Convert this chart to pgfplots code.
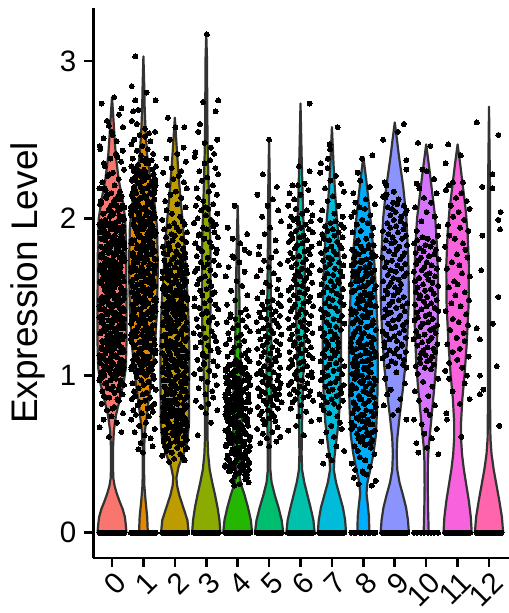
\documentclass[border=0pt]{standalone}
\usepackage{fontspec}
\setmainfont{Liberation Sans}
\usepackage{pgfplots}
\usepackage{pgfplotstable}
\pgfplotsset{compat=1.18}
\definecolor{vA}{HTML}{F8766D}
\definecolor{vB}{HTML}{E18A00}
\definecolor{vC}{HTML}{BE9C00}
\definecolor{vD}{HTML}{8CAB00}
\definecolor{vE}{HTML}{24B700}
\definecolor{vF}{HTML}{00BE70}
\definecolor{vG}{HTML}{00C1AB}
\definecolor{vH}{HTML}{00BBDA}
\definecolor{vI}{HTML}{00ACFC}
\definecolor{vJ}{HTML}{8B93FF}
\definecolor{vK}{HTML}{D575FE}
\definecolor{vL}{HTML}{F962DD}
\definecolor{vM}{HTML}{FF65AC}
\definecolor{vline}{HTML}{333333}

% cells with zero expression (jitter offsets in 1/100 x units)
\pgfplotstableread{
d y
-40 0
-35 0
-30 0
-25 0
-20 0
-15 0
-10 0
-5 0
0 0
5 0
10 0
15 0
20 0
25 0
30 0
35 0
40 0
}\zfull
\pgfplotstableread{
d y
-38 0
-30 0
-22 0
-12 0
-4 0
4 0
14 0
22 0
30 0
38 0
}\zeight
\pgfplotstableread{
d y
-38 0
-28 0
-16 0
-6 0
6 0
16 0
26 0
38 0
}\zten

\pgfplotsset{jit/.style={only marks, mark=*, mark size=2.5pt, mark options={black, fill=black, line width=0pt}, forget plot}}
% violin outline: offset from cluster centre (x units), expression level
\newcommand{\vio}[3]{%
\addplot[fill=#2, draw=vline, line width=2.2pt, line join=round, forget plot] table[row sep=\\, x expr=#1+\thisrow{x}, y=y] {x y\\ #3};
}
\newcommand{\zbar}[2]{%
\addplot[jit] table[x expr=#1+(\thisrow{d})/100, y=y] {#2};
}

\begin{document}
\begin{tikzpicture}
\begin{axis}[
 scale only axis, width=415pt, height=550pt,
 xmin=-0.589, xmax=12.62, ymin=-0.161, ymax=3.338,
 axis x line=bottom, axis y line=left,
 axis line style={-, line width=2.8pt, black},
 xtick={0,1,2,3,4,5,6,7,8,9,10,11,12},
 xticklabels={0,1,2,3,4,5,6,7,8,9,10,11,12},
 ytick={0,1,2,3}, yticklabels={0,1,2,3},
 tick align=outside, major tick length=9pt,
 tick style={line width=2.6pt, black},
 xticklabel style={font=\fontsize{29.5}{29.5}\selectfont, yshift=-3.5pt, xshift=1.5pt, rotate=45, anchor=north east, inner sep=0pt},
 yticklabel style={font=\fontsize{29.5}{29.5}\selectfont, anchor=east, inner sep=0pt, xshift=-8pt},
 every axis y label/.style={at={(rel axis cs:0,0.5)}, xshift=-65.5pt, rotate=90, anchor=center, font=\fontsize{37}{37}\selectfont},
 ylabel={Expression Level},
]
\vio{0}{vA}{0.46 0\\ 0.44 0.05\\ 0.41 0.10\\ 0.34 0.15\\ 0.24 0.20\\ 0.15 0.25\\ 0.08 0.30\\ 0.04 0.35\\ 0.03 0.45\\ 0.035 0.55\\ 0.06 0.65\\ 0.13 0.75\\ 0.25 0.85\\ 0.37 0.95\\ 0.44 1.05\\ 0.46 1.2\\ 0.46 1.5\\ 0.45 1.8\\ 0.42 2.0\\ 0.35 2.1\\ 0.21 2.25\\ 0.12 2.4\\ 0.07 2.55\\ 0.04 2.65\\ 0 2.77\\ -0.04 2.65\\ -0.07 2.55\\ -0.12 2.4\\ -0.21 2.25\\ -0.35 2.1\\ -0.42 2.0\\ -0.45 1.8\\ -0.46 1.5\\ -0.46 1.2\\ -0.44 1.05\\ -0.37 0.95\\ -0.25 0.85\\ -0.13 0.75\\ -0.06 0.65\\ -0.035 0.55\\ -0.03 0.45\\ -0.04 0.35\\ -0.08 0.30\\ -0.15 0.25\\ -0.24 0.20\\ -0.34 0.15\\ -0.41 0.10\\ -0.44 0.05\\ -0.46 0\\ 0.46 0\\}
\vio{1}{vB}{0.14 0\\ 0.12 0.1\\ 0.07 0.2\\ 0.03 0.3\\ 0.02 0.4\\ 0.025 0.55\\ 0.05 0.65\\ 0.14 0.8\\ 0.27 1.0\\ 0.37 1.2\\ 0.43 1.4\\ 0.46 1.7\\ 0.43 1.95\\ 0.35 2.1\\ 0.22 2.25\\ 0.12 2.4\\ 0.07 2.55\\ 0.04 2.7\\ 0.025 2.85\\ 0 3.03\\ -0.025 2.85\\ -0.04 2.7\\ -0.07 2.55\\ -0.12 2.4\\ -0.22 2.25\\ -0.35 2.1\\ -0.43 1.95\\ -0.46 1.7\\ -0.43 1.4\\ -0.37 1.2\\ -0.27 1.0\\ -0.14 0.8\\ -0.05 0.65\\ -0.025 0.55\\ -0.02 0.4\\ -0.03 0.3\\ -0.07 0.2\\ -0.12 0.1\\ -0.14 0\\ 0.14 0\\}
\vio{2}{vC}{0.44 0\\ 0.40 0.08\\ 0.27 0.16\\ 0.14 0.24\\ 0.07 0.30\\ 0.05 0.35\\ 0.12 0.42\\ 0.28 0.50\\ 0.40 0.58\\ 0.45 0.7\\ 0.46 1.2\\ 0.42 1.45\\ 0.36 1.65\\ 0.30 1.85\\ 0.24 2.0\\ 0.17 2.15\\ 0.11 2.3\\ 0.06 2.45\\ 0 2.64\\ -0.06 2.45\\ -0.11 2.3\\ -0.17 2.15\\ -0.24 2.0\\ -0.30 1.85\\ -0.36 1.65\\ -0.42 1.45\\ -0.46 1.2\\ -0.45 0.7\\ -0.40 0.58\\ -0.28 0.50\\ -0.12 0.42\\ -0.05 0.35\\ -0.07 0.30\\ -0.14 0.24\\ -0.27 0.16\\ -0.40 0.08\\ -0.44 0\\ 0.44 0\\}
\vio{3}{vD}{0.45 0\\ 0.42 0.08\\ 0.36 0.16\\ 0.28 0.24\\ 0.19 0.32\\ 0.11 0.4\\ 0.06 0.5\\ 0.04 0.6\\ 0.04 0.75\\ 0.06 0.9\\ 0.10 1.1\\ 0.13 1.35\\ 0.14 1.6\\ 0.13 1.85\\ 0.10 2.05\\ 0.07 2.25\\ 0.04 2.5\\ 0.03 2.75\\ 0.025 3.0\\ 0 3.17\\ -0.025 3.0\\ -0.03 2.75\\ -0.04 2.5\\ -0.07 2.25\\ -0.10 2.05\\ -0.13 1.85\\ -0.14 1.6\\ -0.13 1.35\\ -0.10 1.1\\ -0.06 0.9\\ -0.04 0.75\\ -0.04 0.6\\ -0.06 0.5\\ -0.11 0.4\\ -0.19 0.32\\ -0.28 0.24\\ -0.36 0.16\\ -0.42 0.08\\ -0.45 0\\ 0.45 0\\}
\vio{4}{vE}{0.46 0\\ 0.42 0.08\\ 0.33 0.16\\ 0.22 0.24\\ 0.12 0.30\\ 0.06 0.36\\ 0.06 0.42\\ 0.09 0.5\\ 0.13 0.6\\ 0.15 0.7\\ 0.14 0.85\\ 0.11 1.0\\ 0.08 1.2\\ 0.055 1.5\\ 0.035 1.8\\ 0 2.08\\ -0.035 1.8\\ -0.055 1.5\\ -0.08 1.2\\ -0.11 1.0\\ -0.14 0.85\\ -0.15 0.7\\ -0.13 0.6\\ -0.09 0.5\\ -0.06 0.42\\ -0.06 0.36\\ -0.12 0.30\\ -0.22 0.24\\ -0.33 0.16\\ -0.42 0.08\\ -0.46 0\\ 0.46 0\\}
\vio{5}{vF}{0.45 0\\ 0.40 0.08\\ 0.30 0.16\\ 0.18 0.24\\ 0.08 0.32\\ 0.04 0.4\\ 0.04 0.55\\ 0.06 0.7\\ 0.08 0.9\\ 0.08 1.1\\ 0.065 1.35\\ 0.05 1.6\\ 0.035 1.9\\ 0.025 2.2\\ 0 2.5\\ -0.025 2.2\\ -0.035 1.9\\ -0.05 1.6\\ -0.065 1.35\\ -0.08 1.1\\ -0.08 0.9\\ -0.06 0.7\\ -0.04 0.55\\ -0.04 0.4\\ -0.08 0.32\\ -0.18 0.24\\ -0.30 0.16\\ -0.40 0.08\\ -0.45 0\\ 0.45 0\\}
\vio{6}{vG}{0.45 0\\ 0.41 0.08\\ 0.32 0.16\\ 0.22 0.24\\ 0.12 0.32\\ 0.05 0.4\\ 0.035 0.5\\ 0.04 0.6\\ 0.06 0.8\\ 0.09 1.0\\ 0.13 1.25\\ 0.14 1.5\\ 0.13 1.75\\ 0.09 2.0\\ 0.06 2.2\\ 0.035 2.4\\ 0 2.73\\ -0.035 2.4\\ -0.06 2.2\\ -0.09 2.0\\ -0.13 1.75\\ -0.14 1.5\\ -0.13 1.25\\ -0.09 1.0\\ -0.06 0.8\\ -0.04 0.6\\ -0.035 0.5\\ -0.05 0.4\\ -0.12 0.32\\ -0.22 0.24\\ -0.32 0.16\\ -0.41 0.08\\ -0.45 0\\ 0.45 0\\}
\vio{7}{vH}{0.45 0\\ 0.42 0.08\\ 0.35 0.16\\ 0.24 0.24\\ 0.13 0.32\\ 0.06 0.4\\ 0.08 0.48\\ 0.14 0.58\\ 0.21 0.7\\ 0.26 0.85\\ 0.29 1.1\\ 0.29 1.4\\ 0.26 1.7\\ 0.20 1.9\\ 0.14 2.05\\ 0.09 2.2\\ 0.05 2.35\\ 0 2.58\\ -0.05 2.35\\ -0.09 2.2\\ -0.14 2.05\\ -0.20 1.9\\ -0.26 1.7\\ -0.29 1.4\\ -0.29 1.1\\ -0.26 0.85\\ -0.21 0.7\\ -0.14 0.58\\ -0.08 0.48\\ -0.06 0.4\\ -0.13 0.32\\ -0.24 0.24\\ -0.35 0.16\\ -0.42 0.08\\ -0.45 0\\ 0.45 0\\}
\vio{8}{vI}{0.19 0\\ 0.18 0.1\\ 0.14 0.18\\ 0.10 0.25\\ 0.13 0.32\\ 0.22 0.4\\ 0.32 0.5\\ 0.40 0.62\\ 0.44 0.8\\ 0.46 1.0\\ 0.45 1.3\\ 0.40 1.55\\ 0.34 1.75\\ 0.25 1.95\\ 0.17 2.1\\ 0.09 2.25\\ 0 2.39\\ -0.09 2.25\\ -0.17 2.1\\ -0.25 1.95\\ -0.34 1.75\\ -0.40 1.55\\ -0.45 1.3\\ -0.46 1.0\\ -0.44 0.8\\ -0.40 0.62\\ -0.32 0.5\\ -0.22 0.4\\ -0.13 0.32\\ -0.10 0.25\\ -0.14 0.18\\ -0.18 0.1\\ -0.19 0\\ 0.19 0\\}
\vio{9}{vJ}{0.45 0\\ 0.42 0.08\\ 0.36 0.16\\ 0.26 0.24\\ 0.15 0.32\\ 0.08 0.4\\ 0.06 0.5\\ 0.08 0.6\\ 0.16 0.75\\ 0.25 0.9\\ 0.33 1.05\\ 0.40 1.25\\ 0.45 1.5\\ 0.43 1.75\\ 0.37 2.0\\ 0.27 2.2\\ 0.13 2.4\\ 0.07 2.5\\ 0 2.61\\ -0.07 2.5\\ -0.13 2.4\\ -0.27 2.2\\ -0.37 2.0\\ -0.43 1.75\\ -0.45 1.5\\ -0.40 1.25\\ -0.33 1.05\\ -0.25 0.9\\ -0.16 0.75\\ -0.08 0.6\\ -0.06 0.5\\ -0.08 0.4\\ -0.15 0.32\\ -0.26 0.24\\ -0.36 0.16\\ -0.42 0.08\\ -0.45 0\\ 0.45 0\\}
\vio{10}{vK}{0.08 0\\ 0.06 0.15\\ 0.05 0.3\\ 0.055 0.45\\ 0.08 0.55\\ 0.13 0.65\\ 0.20 0.8\\ 0.27 0.95\\ 0.32 1.1\\ 0.37 1.35\\ 0.38 1.6\\ 0.35 1.8\\ 0.29 2.0\\ 0.20 2.15\\ 0.11 2.3\\ 0 2.47\\ -0.11 2.3\\ -0.20 2.15\\ -0.29 2.0\\ -0.35 1.8\\ -0.38 1.6\\ -0.37 1.35\\ -0.32 1.1\\ -0.27 0.95\\ -0.20 0.8\\ -0.13 0.65\\ -0.08 0.55\\ -0.055 0.45\\ -0.05 0.3\\ -0.06 0.15\\ -0.08 0\\ 0.08 0\\}
\vio{11}{vL}{0.45 0\\ 0.42 0.1\\ 0.36 0.2\\ 0.28 0.3\\ 0.20 0.4\\ 0.14 0.5\\ 0.11 0.6\\ 0.11 0.7\\ 0.15 0.85\\ 0.22 1.0\\ 0.29 1.2\\ 0.35 1.45\\ 0.36 1.7\\ 0.32 1.9\\ 0.26 2.05\\ 0.17 2.2\\ 0.08 2.35\\ 0 2.47\\ -0.08 2.35\\ -0.17 2.2\\ -0.26 2.05\\ -0.32 1.9\\ -0.36 1.7\\ -0.35 1.45\\ -0.29 1.2\\ -0.22 1.0\\ -0.15 0.85\\ -0.11 0.7\\ -0.11 0.6\\ -0.14 0.5\\ -0.20 0.4\\ -0.28 0.3\\ -0.36 0.2\\ -0.42 0.1\\ -0.45 0\\ 0.45 0\\}
\vio{12}{vM}{0.45 0\\ 0.41 0.1\\ 0.33 0.2\\ 0.24 0.3\\ 0.15 0.4\\ 0.08 0.5\\ 0.045 0.6\\ 0.035 0.8\\ 0.035 1.5\\ 0.03 2.2\\ 0 2.71\\ -0.03 2.2\\ -0.035 1.5\\ -0.035 0.8\\ -0.045 0.6\\ -0.08 0.5\\ -0.15 0.4\\ -0.24 0.3\\ -0.33 0.2\\ -0.41 0.1\\ -0.45 0\\ 0.45 0\\}

\zbar{0}{\zfull}
\zbar{1}{\zfull}
\zbar{2}{\zfull}
\zbar{3}{\zfull}
\zbar{4}{\zfull}
\zbar{5}{\zfull}
\zbar{6}{\zfull}
\zbar{7}{\zfull}
\zbar{8}{\zeight}
\zbar{9}{\zfull}
\zbar{10}{\zten}
\zbar{11}{\zfull}
\zbar{12}{\zfull}

% cluster 0
\addplot[jit] table[row sep=\\, x expr=0+(\thisrow{d})/100, y expr=\thisrow{y}/100] {d y\\
22 266\\ -33 273\\ 7 277\\ -16 262\\ 35 258\\ -1 255\\ -27 251\\ 15 249\\ -39 246\\ 30 270\\ -10 259\\ 2 253\\
-37 244\\ 12 241\\ -5 238\\ 29 236\\ -22 233\\ 38 231\\ 3 229\\ -14 227\\ 21 225\\ -31 223\\ 8 221\\ 34 243\\ -26 235\\ -9 228\\ 17 239\\
-40 219\\ 25 217\\ -2 216\\ 31 214\\ -18 213\\ 6 211\\ -34 210\\ 14 208\\ 39 207\\ -11 205\\ 0 204\\ -28 203\\ 23 202\\ -7 201\\ 36 200\\ -20 218\\ 10 212\\ -38 209\\ 27 206\\ -15 215\\ 4 203\\ 33 201\\ -24 219\\ 19 214\\ -3 208\\
22 199\\ -33 198\\ 7 197\\ -16 196\\ 35 195\\ -1 194\\ -27 193\\ 15 192\\ -39 191\\ 30 190\\ -10 189\\ 2 188\\ 26 187\\ -21 186\\ 37 185\\ -6 184\\ 11 183\\ -35 182\\ 18 181\\ -24 180\\ -13 179\\ 32 178\\ -30 177\\ 5 176\\ 24 175\\ -17 174\\ 40 173\\ -8 172\\ 13 171\\ -36 170\\ 28 169\\ -4 168\\ -23 167\\ 9 166\\ -29 165\\ 16 164\\ 1 163\\ -19 162\\ 20 161\\ -12 160\\
-37 159\\ 12 158\\ -5 157\\ 29 156\\ -22 155\\ 38 154\\ 3 153\\ -14 152\\ 21 151\\ -31 150\\ 8 149\\ 34 148\\ -26 147\\ -9 146\\ 17 145\\ -40 144\\ 25 143\\ -2 142\\ 31 141\\ -18 140\\ 6 139\\ -34 138\\ 14 137\\ 39 136\\ -11 135\\ 0 134\\ -28 133\\ 23 132\\ -7 131\\ 36 130\\ -20 129\\ 10 128\\ -38 127\\ 27 126\\ -15 125\\ 4 124\\ 33 123\\ -24 122\\ 19 121\\ -3 120\\
22 119\\ -33 118\\ 7 117\\ -16 116\\ 35 115\\ -1 114\\ -27 113\\ 15 112\\ -39 111\\ 30 110\\ -10 109\\ 2 108\\ 26 107\\ -21 106\\ 37 105\\ -6 104\\ 11 103\\ -35 102\\ 18 101\\ -24 100\\
-3 101\\ 19 103\\ -24 104\\ 33 106\\ 4 107\\ -15 109\\ 27 110\\ -38 112\\ 10 113\\ -20 115\\ 36 116\\ -7 118\\ 23 119\\ -28 121\\ 0 122\\ -11 124\\ 39 125\\ 14 127\\ -34 128\\ 6 130\\ -18 131\\ 31 133\\ -2 134\\ 25 136\\ -40 137\\ 17 139\\ -9 140\\ -26 142\\ 34 143\\ 8 145\\ -31 146\\ 21 148\\ -14 149\\ 3 151\\ 38 152\\ -22 154\\ 29 155\\ -5 157\\ 12 158\\ -37 160\\
-12 161\\ 20 163\\ -19 164\\ 1 166\\ 16 167\\ -29 169\\ 9 170\\ -23 172\\ -4 173\\ 28 175\\ -36 176\\ 13 178\\ -8 179\\ 40 181\\ -17 182\\ 24 184\\ 5 185\\ -30 187\\ 32 188\\ -13 190\\ -24 191\\ 18 193\\ -35 194\\ 11 196\\ -6 197\\ 37 199\\
-37 99\\ 12 98\\ -5 97\\ 29 96\\ -22 95\\ 38 94\\ 3 93\\ -14 92\\ 21 91\\ -31 90\\ 8 89\\ 34 88\\ -26 87\\ -9 86\\ 17 85\\ -40 97\\ 25 94\\ -2 91\\ 31 88\\ -18 86\\
22 84\\ -33 82\\ 7 80\\ -16 78\\ 35 76\\ -1 74\\ -27 72\\ 15 70\\ -39 67\\ 30 64\\ -10 61\\ 2 79\\
5 100\\ -29 102\\ 34 103\\ -12 105\\ 18 106\\ -38 108\\ 26 109\\ -4 111\\ 11 112\\ -21 114\\ 38 115\\ -33 117\\ 0 118\\ 15 120\\ -17 121\\ 30 123\\ -8 124\\ 23 126\\ -36 127\\ 9 129\\ -25 130\\ 36 132\\ -1 133\\ 13 135\\ -30 136\\ 20 138\\ -14 139\\ 39 141\\ -23 142\\ 3 144\\ -10 145\\ 28 147\\ -39 148\\ 16 150\\ -6 151\\ 32 153\\ -19 154\\ 7 156\\ -27 157\\ 24 159\\
5 160\\ -29 162\\ 34 163\\ -12 165\\ 18 166\\ -38 168\\ 26 169\\ -4 171\\ 11 172\\ -21 174\\ 38 175\\ -33 177\\ 0 178\\ 15 180\\ -17 181\\ 30 183\\ -8 184\\ 23 186\\ -36 187\\ 9 189\\ -25 190\\ 36 192\\ -1 193\\ 13 195\\ -30 196\\ 20 198\\
-18 95\\ 27 97\\ -36 98\\ 8 100\\ 33 101\\ -9 103\\ 19 104\\ -27 106\\ 1 107\\ 37 109\\ -22 110\\ 12 112\\ -40 113\\ 24 115\\ -4 116\\ 31 118\\ -14 119\\ 6 121\\ -31 122\\ 16 124\\ 39 125\\ -6 127\\ -25 128\\ 21 130\\ -11 131\\ 35 133\\ -34 134\\ 3 136\\ 29 137\\ -19 139\\ 10 140\\ -38 142\\ 26 143\\ -1 145\\ 14 146\\ -29 148\\ 38 149\\ -16 151\\ 4 152\\ -8 154\\
-8 155\\ 4 157\\ -16 158\\ 38 160\\ -29 161\\ 14 163\\ -1 164\\ 26 166\\ -38 167\\ 10 169\\ -19 170\\ 29 172\\ 3 173\\ -34 175\\ 35 176\\ -11 178\\ 21 179\\ -25 181\\ -6 182\\ 39 184\\ 16 185\\ -31 187\\ 6 188\\ -14 190\\ 31 191\\ -4 193\\ 24 194\\ -40 196\\ 12 197\\ -22 199\\ 37 200\\ 1 202\\ -27 203\\ 19 205\\ -9 206\\ 33 208\\ 8 209\\ -36 211\\ 27 212\\ -18 214\\
};
% cluster 1
\addplot[jit] table[row sep=\\, x expr=1-(\thisrow{d})/100, y expr=\thisrow{y}/100] {d y\\
26 303\\ 37 284\\ 26 275\\ -10 280\\ -39 275\\ 33 268\\ 16 269\\ 37 262\\ 21 260\\ -5 257\\
-37 255\\ 12 253\\ -5 252\\ 29 250\\ -22 249\\ 38 247\\ 3 246\\ -14 244\\ 21 243\\ -31 241\\ 8 240\\ 34 238\\ -26 237\\ -9 235\\ 17 234\\ -40 233\\ 25 232\\ -2 231\\ 31 230\\ -18 254\\
22 229\\ -33 228\\ 7 227\\ -16 226\\ 35 225\\ -1 224\\ -27 223\\ 15 222\\ -39 221\\ 30 220\\ -10 219\\ 2 218\\ 26 217\\ -21 216\\ 37 215\\ -6 214\\ 11 213\\ -35 212\\ 18 211\\ -24 210\\ -13 209\\ 32 208\\ -30 207\\ 5 206\\ 24 205\\ -17 204\\ 40 203\\ -8 202\\ 13 201\\ -36 200\\ 28 199\\ -4 198\\ -23 197\\ 9 196\\ -29 195\\ 16 194\\ 1 193\\ -19 192\\ 20 191\\ -12 190\\
-37 189\\ 12 188\\ -5 187\\ 29 186\\ -22 185\\ 38 184\\ 3 183\\ -14 182\\ 21 181\\ -31 180\\ 8 179\\ 34 178\\ -26 177\\ -9 176\\ 17 175\\ -40 174\\ 25 173\\ -2 172\\ 31 171\\ -18 170\\ 6 169\\ -34 168\\ 14 167\\ 39 166\\ -11 165\\ 0 164\\ -28 163\\ 23 162\\ -7 161\\ 36 160\\ -20 159\\ 10 158\\ -38 157\\ 27 156\\ -15 155\\ 4 154\\ 33 153\\ -24 152\\ 19 151\\ -3 150\\
22 149\\ -33 148\\ 7 147\\ -16 146\\ 35 145\\ -1 144\\ -27 143\\ 15 142\\ -39 141\\ 30 140\\ -10 139\\ 2 138\\ 26 137\\ -21 136\\ 37 135\\ -6 134\\ 11 133\\ -35 132\\ 18 131\\ -24 130\\ -13 129\\ 32 128\\ -30 127\\ 5 126\\ 24 125\\ -17 124\\ 40 123\\ -8 122\\ 13 121\\ -36 120\\ 28 119\\ -4 118\\ -23 117\\ 9 116\\ -29 115\\ 16 114\\ 1 113\\ -19 112\\ 20 111\\ -12 110\\
-37 109\\ 12 108\\ -5 107\\ 29 106\\ -22 105\\ 38 104\\ 3 103\\ -14 102\\ 21 101\\ -31 100\\
-3 101\\ 19 103\\ -24 105\\ 33 107\\ 4 109\\ -15 111\\ 27 113\\ -38 115\\ 10 117\\ -20 119\\ 36 121\\ -7 123\\ 23 125\\ -28 127\\ 0 129\\ -11 131\\ 39 133\\ 14 135\\ -34 137\\ 6 139\\ -18 141\\ 31 143\\ -2 145\\ 25 147\\ -40 149\\ 17 151\\ -9 153\\ -26 155\\ 34 157\\ 8 159\\ -31 161\\ 21 163\\ -14 165\\ 3 167\\ 38 169\\ -22 171\\ 29 173\\ -5 175\\ 12 177\\ -37 179\\
-12 181\\ 20 183\\ -19 185\\ 1 187\\ 16 189\\ -29 191\\ 9 193\\ -23 195\\ -4 197\\ 28 199\\ -36 201\\ 13 203\\ -8 205\\ 40 207\\ -17 209\\ 24 211\\ 5 213\\ -30 215\\ 32 217\\ -13 219\\ -24 221\\ 18 223\\ -35 225\\ 11 227\\ -6 229\\
22 99\\ -33 98\\ 7 97\\ -16 96\\ 35 95\\ -1 94\\ -27 93\\ 15 92\\ -39 91\\ 30 90\\ -10 89\\ 2 88\\ 26 87\\ -21 86\\ 37 85\\ -6 84\\ 11 83\\ -35 82\\ 18 81\\ -24 80\\ -13 79\\ 32 78\\ -30 77\\ 5 76\\ 24 75\\
-17 74\\ 39 72\\ -8 70\\ 13 68\\ -36 66\\ 28 64\\ -4 62\\ -23 60\\ 9 57\\ -29 55\\ 16 53\\ 1 51\\
24 102\\ -27 104\\ 7 106\\ -19 108\\ 32 110\\ -6 112\\ 16 114\\ -39 116\\ 28 118\\ -10 120\\ 3 122\\ -23 124\\ 39 126\\ -14 128\\ 20 130\\ -30 132\\ 13 134\\ -1 136\\ 36 138\\ -25 140\\ 9 142\\ -36 144\\ 23 146\\ -8 148\\ 30 150\\ -17 152\\ 15 154\\ 0 156\\ -33 158\\ 38 160\\ -21 162\\ 11 164\\ -4 166\\ 26 168\\ -38 170\\ 18 172\\ -12 174\\ 34 176\\ -29 178\\ 5 180\\
5 182\\ -29 184\\ 34 186\\ -12 188\\ 18 190\\ -38 192\\ 26 194\\ -4 196\\ 11 198\\ -21 200\\ 38 202\\ -33 204\\ 0 206\\ 15 208\\ -17 210\\ 30 212\\ -8 214\\ 23 216\\ -36 218\\ 9 220\\ -25 222\\ 36 224\\ -1 226\\ 13 228\\
-8 100\\ 4 102\\ -16 104\\ 38 105\\ -29 107\\ 14 109\\ -1 111\\ 26 112\\ -38 114\\ 10 116\\ -19 118\\ 29 119\\ 3 121\\ -34 123\\ 35 125\\ -11 126\\ 21 128\\ -25 130\\ -6 132\\ 39 133\\ 16 135\\ -31 137\\ 6 139\\ -14 140\\ 31 142\\ -4 144\\ 24 146\\ -40 147\\ 12 149\\ -22 151\\ 37 153\\ 1 154\\ -27 156\\ 19 158\\ -9 160\\ 33 161\\ 8 163\\ -36 165\\ 27 167\\ -18 168\\
-18 170\\ 27 172\\ -36 174\\ 8 175\\ 33 177\\ -9 179\\ 19 181\\ -27 182\\ 1 184\\ 37 186\\ -22 188\\ 12 189\\ -40 191\\ 24 193\\ -4 195\\ 31 196\\ -14 198\\ 6 200\\ -31 202\\ 16 203\\ 39 205\\ -6 207\\ -25 209\\ 21 210\\ -11 212\\ 35 214\\ -34 216\\ 3 217\\ 29 219\\ -19 221\\ 10 223\\ -38 224\\ 26 226\\ -1 228\\ 14 230\\ -29 231\\ 38 233\\ -16 235\\ 4 237\\ -8 238\\
};
% cluster 2
\addplot[jit] table[row sep=\\, x expr=2+(\thisrow{d})/100, y expr=\thisrow{y}/100] {d y\\
-22 264\\ 2 258\\ 30 258\\ -16 250\\ 28 245\\ 8 241\\ -27 238\\ 35 236\\ -10 232\\ 20 230\\
-37 229\\ 12 227\\ -5 225\\ 29 223\\ -22 221\\ 38 219\\ 3 217\\ -14 215\\ 21 213\\ -31 211\\ 8 209\\ 34 207\\ -26 205\\ -9 203\\ 17 201\\
-40 199\\ 25 198\\ -2 197\\ 31 196\\ -18 195\\ 6 194\\ -34 193\\ 14 192\\ 39 191\\ -11 190\\ 0 189\\ -28 188\\ 23 187\\ -7 186\\ 36 185\\ -20 184\\ 10 183\\ -38 182\\ 27 181\\ -15 180\\ 4 179\\ 33 178\\ -24 177\\ 19 176\\ -3 175\\ 22 174\\ -33 173\\ 7 172\\ -16 171\\ 35 170\\
-1 169\\ -27 168\\ 15 167\\ -39 166\\ 30 165\\ -10 164\\ 2 163\\ 26 162\\ -21 161\\ 37 160\\ -6 159\\ 11 158\\ -35 157\\ 18 156\\ -24 155\\ -13 154\\ 32 153\\ -30 152\\ 5 151\\ 24 150\\ -17 149\\ 40 148\\ -8 147\\ 13 146\\ -36 145\\ 28 144\\ -4 143\\ -23 142\\ 9 141\\ -29 140\\ 16 139\\ 1 138\\ -19 137\\ 20 136\\ -12 135\\
-37 134\\ 12 133\\ -5 132\\ 29 131\\ -22 130\\ 38 129\\ 3 128\\ -14 127\\ 21 126\\ -31 125\\ 8 124\\ 34 123\\ -26 122\\ -9 121\\ 17 120\\ -40 119\\ 25 118\\ -2 117\\ 31 116\\ -18 115\\ 6 114\\ -34 113\\ 14 112\\ 39 111\\ -11 110\\ 0 109\\ -28 108\\ 23 107\\ -7 106\\ 36 105\\ -20 104\\ 10 103\\ -38 102\\ 27 101\\ -15 100\\ 4 99\\ 33 98\\ -24 97\\ 19 96\\ -3 95\\
22 94\\ -33 93\\ 7 92\\ -16 91\\ 35 90\\ -1 89\\ -27 88\\ 15 87\\ -39 86\\ 30 85\\ -10 84\\ 2 83\\ 26 82\\ -21 81\\ 37 80\\ -6 79\\ 11 78\\ -35 77\\ 18 76\\ -24 75\\ -13 74\\ 32 73\\ -30 72\\ 5 71\\ 24 70\\ -17 69\\ 40 68\\ -8 67\\ 13 66\\ -36 65\\
-3 66\\ 19 68\\ -24 70\\ 33 72\\ 4 74\\ -15 76\\ 27 78\\ -38 80\\ 10 82\\ -20 84\\ 36 86\\ -7 88\\ 23 90\\ -28 92\\ 0 94\\ -11 96\\ 39 98\\ 14 100\\ -34 102\\ 6 104\\ -18 106\\ 31 108\\ -2 110\\ 25 112\\ -40 114\\ 17 116\\ -9 118\\ -26 120\\ 34 122\\ 8 124\\ -31 126\\ 21 128\\ -14 130\\ 3 132\\ 38 134\\ -22 136\\ 29 138\\ -5 140\\ 12 142\\ -37 144\\ -12 146\\ 20 148\\ -19 150\\ 1 152\\ 16 154\\
-37 64\\ 12 63\\ -5 62\\ 29 61\\ -22 60\\ 38 59\\ 3 58\\ -14 57\\ 21 56\\ -31 55\\ 8 54\\ 34 53\\ -26 52\\ -9 51\\ 17 50\\ -40 49\\ 25 48\\ -2 47\\ 31 46\\ -18 45\\ 6 63\\ -34 60\\ 14 57\\ 39 54\\ -11 51\\
5 61\\ -29 63\\ 34 65\\ -12 67\\ 18 69\\ -38 71\\ 26 73\\ -4 75\\ 11 77\\ -21 79\\ 38 81\\ -33 83\\ 0 85\\ 15 87\\ -17 89\\ 30 91\\ -8 93\\ 23 95\\ -36 97\\ 9 99\\ -25 101\\ 36 103\\ -1 105\\ 13 107\\ -30 109\\ 20 111\\ -14 113\\ 39 115\\ -23 117\\ 3 119\\ -10 121\\ 28 123\\ -39 125\\ 16 127\\ -6 129\\ 32 131\\ -19 133\\ 7 135\\ -27 137\\ 24 139\\
24 141\\ -27 143\\ 7 145\\ -19 147\\ 32 149\\ -6 151\\ 16 153\\ -39 155\\ 28 157\\ -10 159\\ 3 161\\ -23 163\\ 39 165\\ -14 167\\ 20 169\\
-18 55\\ 27 57\\ -36 58\\ 8 60\\ 33 62\\ -9 63\\ 19 65\\ -27 66\\ 1 68\\ 37 70\\ -22 71\\ 12 73\\ -40 74\\ 24 76\\ -4 78\\ 31 79\\ -14 81\\ 6 82\\ -31 84\\ 16 86\\ 39 87\\ -6 89\\ -25 90\\ 21 92\\ -11 94\\ 35 95\\ -34 97\\ 3 98\\ 29 100\\ -19 102\\ 10 103\\ -38 105\\ 26 106\\ -1 108\\ 14 110\\ -29 111\\ 38 113\\ -16 114\\ 4 116\\ -8 118\\
-8 119\\ 4 121\\ -16 122\\ 38 124\\ -29 126\\ 14 127\\ -1 129\\ 26 130\\ -38 132\\ 10 134\\ -19 135\\ 29 137\\ 3 138\\ -34 140\\ 35 142\\ -11 143\\ 21 145\\ -25 146\\ -6 148\\ 39 150\\ 16 151\\ -31 153\\ 6 154\\ -14 156\\ 31 158\\ -4 159\\ 24 161\\ -40 162\\ 12 164\\ -22 166\\ 37 167\\ 1 169\\ -27 170\\ 19 172\\ -9 174\\ 33 175\\ 8 177\\ -36 178\\ 27 180\\ -18 182\\
};
% cluster 3
\addplot[jit] table[row sep=\\, x expr=3+(\thisrow{d})/100, y expr=\thisrow{y}/100] {d y\\
2 317\\ -10 274\\ 38 275\\ 30 268\\ -20 260\\ -25 255\\ 35 250\\ -5 248\\ 15 245\\ -35 242\\ 25 241\\
-37 239\\ 12 237\\ -5 235\\ 29 232\\ -22 230\\ 38 228\\ 3 226\\ -14 224\\ 21 221\\ -31 219\\ 8 217\\ 34 215\\ -26 213\\ -9 211\\
22 209\\ -33 208\\ 7 206\\ -16 205\\ 35 203\\ -1 202\\ -27 200\\ 15 199\\ -39 197\\ 30 196\\ -10 194\\ 2 193\\ 26 191\\ -21 190\\ 37 188\\ -6 187\\ 11 185\\ -35 184\\ 18 182\\ -24 181\\ -13 179\\ 32 178\\ -30 176\\ 5 175\\ 24 173\\ -17 172\\ 40 170\\ -8 169\\ 13 167\\ -36 166\\ 28 164\\ -4 163\\ -23 161\\ 9 160\\ -29 158\\ 16 157\\ 1 155\\ -19 154\\ 20 152\\ -12 151\\
-37 149\\ 12 148\\ -5 146\\ 29 145\\ -22 143\\ 38 142\\ 3 140\\ -14 139\\ 21 137\\ -31 136\\ 8 134\\ 34 133\\ -26 131\\ -9 130\\ 17 128\\ -40 127\\ 25 125\\ -2 124\\ 31 122\\ -18 121\\ 6 119\\ -34 118\\ 14 116\\ 39 115\\ -11 113\\ 0 112\\ -28 110\\ 23 109\\ -7 107\\ 36 106\\ -20 104\\ 10 103\\ -38 101\\ 27 100\\
-3 207\\ 19 198\\ -24 189\\ 33 180\\ 4 171\\ -15 162\\ 27 153\\ -38 144\\ 10 135\\ -20 126\\ 36 117\\ -7 108\\ 23 195\\ -28 168\\ 0 141\\ -11 114\\
-15 98\\ 4 96\\ 33 94\\ -24 92\\ 19 90\\ -3 88\\ 22 86\\ -33 84\\ 7 82\\ -16 80\\ 35 78\\ -1 76\\ -27 62\\ 15 70\\
};
% cluster 4
\addplot[jit] table[row sep=\\, x expr=4-(\thisrow{d})/100, y expr=\thisrow{y}/100] {d y\\
10 208\\ 32 194\\ 16 187\\ -22 180\\ -30 190\\ -8 184\\
-37 178\\ 12 175\\ -5 172\\ 29 169\\ -22 166\\ 38 163\\ 3 160\\ -14 157\\ 21 154\\ -31 151\\ 8 148\\ 34 145\\ -26 142\\ -9 140\\ 17 176\\
22 139\\ -33 138\\ 7 136\\ -16 135\\ 35 134\\ -1 132\\ -27 131\\ 15 130\\ -39 128\\ 30 127\\ -10 126\\ 2 124\\ 26 123\\ -21 122\\ 37 120\\ -6 119\\ 11 118\\ -35 116\\ 18 115\\ -24 114\\ -13 113\\ 32 112\\ -30 111\\ 5 110\\ 24 137\\
-37 109\\ 12 108\\ -5 107\\ 29 106\\ -22 105\\ 38 104\\ 3 103\\ -14 102\\ 21 101\\ -31 100\\ 8 99\\ 34 98\\ -26 97\\ -9 96\\ 17 95\\ -40 94\\ 25 93\\ -2 92\\ 31 91\\ -18 90\\ 6 89\\ -34 88\\ 14 87\\ 39 86\\ -11 85\\ 0 84\\ -28 83\\ 23 82\\ -7 81\\ 36 80\\ -20 79\\ 10 78\\ -38 77\\ 27 76\\ -15 75\\ 4 74\\ 33 73\\ -24 72\\ 19 71\\ -3 70\\
22 69\\ -33 68\\ 7 67\\ -16 66\\ 35 65\\ -1 64\\ -27 63\\ 15 62\\ -39 61\\ 30 60\\ -10 59\\ 2 58\\ 26 57\\ -21 56\\ 37 55\\ -6 54\\ 11 53\\ -35 52\\ 18 51\\ -24 50\\ -13 49\\ 32 48\\ -30 47\\ 5 46\\ 24 45\\ -17 44\\ 40 43\\ -8 42\\ 13 41\\ -36 40\\ 28 39\\ -4 38\\ -23 37\\ 9 36\\ -29 35\\
-3 108\\ 19 107\\ -24 105\\ 33 104\\ 4 103\\ -15 102\\ 27 100\\ -38 99\\ 10 98\\ -20 97\\ 36 95\\ -7 94\\ 23 93\\ -28 92\\ 0 90\\ -11 89\\ 39 88\\ 14 87\\ -34 85\\ 6 84\\ -18 83\\ 31 82\\ -2 80\\ 25 79\\ -40 78\\ 17 77\\ -9 75\\ -26 74\\ 34 73\\ 8 72\\ -31 70\\ 21 69\\ -14 68\\ 3 67\\ 38 65\\ -22 64\\ 29 63\\ -5 62\\ 12 60\\ -37 59\\
-12 58\\ 20 57\\ -19 55\\ 1 54\\ 16 53\\ -29 52\\ 9 50\\ -23 49\\ -4 48\\ 28 47\\ -36 45\\ 13 44\\ -8 43\\ 40 42\\ -17 40\\ 24 39\\ 5 38\\ -30 37\\ 32 71\\ -13 96\\
-24 34\\ 18 33\\ -35 32\\ 11 30\\ -6 31\\
24 41\\ -27 43\\ 7 45\\ -19 47\\ 32 49\\ -6 51\\ 16 53\\ -39 55\\ 28 57\\ -10 59\\ 3 61\\ -23 63\\ 39 65\\ -14 67\\ 20 69\\ -30 71\\ 13 73\\ -1 75\\ 36 77\\ -25 79\\ 9 81\\ -36 83\\ 23 85\\ -8 87\\ 30 89\\ -17 91\\ 15 93\\ 0 95\\ -33 97\\ 38 99\\ -21 101\\ 11 103\\ -4 105\\ 26 107\\ -38 109\\
-18 40\\ 27 42\\ -36 44\\ 8 45\\ 33 47\\ -9 49\\ 19 51\\ -27 52\\ 1 54\\ 37 56\\ -22 58\\ 12 59\\ -40 61\\ 24 63\\ -4 65\\ 31 66\\ -14 68\\ 6 70\\ -31 72\\ 16 73\\ 39 75\\ -6 77\\ -25 79\\ 21 80\\ -11 82\\ 35 84\\ -34 86\\ 3 87\\ 29 89\\ -19 91\\ 10 93\\ -38 94\\ 26 96\\ -1 98\\ 14 100\\ -29 101\\ 38 103\\ -16 105\\ 4 107\\ -8 108\\
};
% cluster 5
\addplot[jit] table[row sep=\\, x expr=5+(\thisrow{d})/100, y expr=\thisrow{y}/100] {d y\\
0 250\\ -20 228\\ 25 220\\
-37 215\\ 12 212\\ -5 208\\ 29 205\\ -22 201\\ 38 198\\ 3 194\\ -14 190\\ 21 186\\ -31 182\\
22 179\\ -33 177\\ 7 175\\ -16 173\\ 35 171\\ -1 169\\ -27 167\\ 15 165\\ -39 163\\ 30 161\\ -10 159\\ 2 157\\ 26 155\\ -21 153\\ 37 151\\
-37 149\\ 12 148\\ -5 147\\ 29 146\\ -22 145\\ 38 144\\ 3 143\\ -14 142\\ 21 141\\ -31 140\\ 8 139\\ 34 138\\ -26 137\\ -9 136\\ 17 135\\ -40 134\\ 25 133\\ -2 132\\ 31 131\\ -18 130\\ 6 129\\ -34 128\\ 14 127\\ 39 126\\ -11 125\\ 0 124\\ -28 123\\ 23 122\\ -7 121\\ 36 120\\ -20 119\\ 10 118\\ -38 117\\ 27 116\\ -15 115\\ 4 114\\ 33 113\\ -24 112\\ 19 111\\ -3 110\\
22 109\\ -33 108\\ 7 107\\ -16 106\\ 35 105\\ -1 104\\ -27 103\\ 15 102\\ -39 101\\ 30 100\\ -10 99\\ 2 98\\ 26 97\\ -21 96\\ 37 95\\ -6 94\\ 11 93\\ -35 92\\ 18 91\\ -24 90\\ -13 89\\ 32 88\\ -30 87\\ 5 86\\ 24 85\\ -17 84\\ 40 83\\ -8 82\\ 13 81\\ -36 80\\ 28 79\\ -4 78\\ -23 77\\ 9 76\\ -29 75\\ 16 74\\ 1 73\\ -19 72\\ 20 71\\ -12 70\\
-3 95\\ 19 88\\ -24 101\\ 33 92\\ 4 84\\
-15 69\\ 27 67\\ -38 66\\ 10 64\\ -20 63\\ 36 61\\ -7 60\\ 23 58\\ -28 57\\ 0 55\\
};
% cluster 6
\addplot[jit] table[row sep=\\, x expr=6-(\thisrow{d})/100, y expr=\thisrow{y}/100] {d y\\
-29 273\\ -29 230\\ 5 233\\
-13 222\\ 26 221\\ 8 221\\ 35 216\\ 39 208\\ 20 212\\ -20 205\\ -5 203\\ 30 201\\ -35 210\\ 0 215\\ 15 206\\ -25 218\\ 10 200\\ -38 202\\
22 199\\ -33 198\\ 7 197\\ -16 196\\ 35 195\\ -1 194\\ -27 193\\ 15 192\\ -39 191\\ 30 190\\ -10 189\\ 2 188\\ 26 187\\ -21 186\\ 37 185\\ -6 184\\ 11 183\\ -35 182\\ 18 181\\ -24 180\\ -13 179\\ 32 178\\ -30 177\\ 5 176\\ 24 175\\ -17 174\\ 40 173\\ -8 172\\ 13 171\\ -36 170\\ 28 169\\ -4 168\\ -23 167\\ 9 166\\ -29 165\\ 16 164\\ 1 163\\ -19 162\\ 20 161\\ -12 160\\
-37 159\\ 12 158\\ -5 157\\ 29 156\\ -22 155\\ 38 154\\ 3 153\\ -14 152\\ 21 151\\ -31 150\\ 8 149\\ 34 148\\ -26 147\\ -9 146\\ 17 145\\ -40 144\\ 25 143\\ -2 142\\ 31 141\\ -18 140\\ 6 139\\ -34 138\\ 14 137\\ 39 136\\ -11 135\\ 0 134\\ -28 133\\ 23 132\\ -7 131\\ 36 130\\ -20 129\\ 10 128\\ -38 127\\ 27 126\\ -15 125\\ 4 124\\ 33 123\\ -24 122\\ 19 121\\ -3 120\\
22 119\\ -33 118\\ 7 117\\ -16 116\\ 35 115\\ -1 114\\ -27 113\\ 15 112\\ -39 111\\ 30 110\\ -10 109\\ 2 108\\ 26 107\\ -21 106\\ 37 105\\ -6 104\\ 11 103\\ -35 102\\ 18 101\\ -24 100\\
-37 99\\ 12 98\\ -5 97\\ 29 96\\ -22 95\\ 38 94\\ 3 93\\ -14 92\\ 21 91\\ -31 90\\ 8 89\\ 34 88\\ -26 87\\ -9 86\\ 17 85\\ -40 84\\ 25 83\\ -2 81\\ 31 79\\ -18 77\\
6 74\\ -34 71\\ 14 68\\ 39 65\\ -11 62\\
};
% cluster 7
\addplot[jit] table[row sep=\\, x expr=7+(\thisrow{d})/100, y expr=\thisrow{y}/100] {d y\\
18 258\\ -7 247\\ -6 244\\ -13 238\\ -14 232\\ -35 235\\
-37 229\\ 12 227\\ -5 224\\ 29 222\\ -22 219\\ 38 217\\ 3 214\\ -14 211\\ 21 208\\ -31 205\\ 8 203\\ 34 201\\
-37 199\\ 12 198\\ -5 197\\ 29 196\\ -22 195\\ 38 194\\ 3 193\\ -14 192\\ 21 191\\ -31 190\\ 8 189\\ 34 188\\ -26 187\\ -9 186\\ 17 185\\ -40 184\\ 25 183\\ -2 182\\ 31 181\\ -18 180\\ 6 179\\ -34 178\\ 14 177\\ 39 176\\ -11 175\\ 0 174\\ -28 173\\ 23 172\\ -7 171\\ 36 170\\ -20 169\\ 10 168\\ -38 167\\ 27 166\\ -15 165\\ 4 164\\ 33 163\\ -24 162\\ 19 161\\ -3 160\\
22 159\\ -33 158\\ 7 157\\ -16 156\\ 35 155\\ -1 154\\ -27 153\\ 15 152\\ -39 151\\ 30 150\\ -10 149\\ 2 148\\ 26 147\\ -21 146\\ 37 145\\ -6 144\\ 11 143\\ -35 142\\ 18 141\\ -24 140\\ -13 139\\ 32 138\\ -30 137\\ 5 136\\ 24 135\\ -17 134\\ 40 133\\ -8 132\\ 13 131\\ -36 130\\ 28 129\\ -4 128\\ -23 127\\ 9 126\\ -29 125\\ 16 124\\ 1 123\\ -19 122\\ 20 121\\ -12 120\\
-12 119\\ 20 118\\ -19 117\\ 1 116\\ 16 115\\ -29 114\\ 9 113\\ -23 112\\ -4 111\\ 28 110\\ -36 109\\ 13 108\\ -8 107\\ 40 106\\ -17 105\\ 24 104\\ 5 103\\ -30 102\\ 32 101\\ -13 100\\ -24 99\\ 18 98\\ -35 97\\ 11 96\\ -6 95\\ 37 94\\ -21 93\\ 26 92\\ 2 91\\ -10 90\\ 30 89\\ -39 88\\ 15 87\\ -27 86\\ -1 85\\ 35 84\\ -16 83\\ 7 82\\ -33 81\\ 22 80\\
-26 78\\ -9 76\\ 17 74\\ -40 72\\ 25 70\\ -2 68\\ 31 66\\ -18 64\\ 6 61\\ -34 58\\ 14 55\\ 39 52\\ -11 49\\ 0 46\\ -28 44\\
};
% cluster 8
\addplot[jit] table[row sep=\\, x expr=8-(\thisrow{d})/100, y expr=\thisrow{y}/100] {d y\\
-29 240\\ 4 238\\ 18 229\\ 10 224\\ 32 216\\ -20 220\\ -8 212\\ 25 210\\
-37 209\\ 12 207\\ -5 206\\ 29 204\\ -22 202\\ 38 201\\ 3 199\\ -14 197\\ 21 196\\ -31 194\\ 8 192\\ 34 191\\ -26 189\\ -9 187\\ 17 186\\
22 184\\ -33 183\\ 7 182\\ -16 181\\ 35 180\\ -1 179\\ -27 178\\ 15 177\\ -39 176\\ 30 175\\ -10 174\\ 2 173\\ 26 172\\ -21 171\\ 37 170\\ -6 169\\ 11 168\\ -35 167\\ 18 166\\ -24 165\\ -13 164\\ 32 163\\ -30 162\\ 5 161\\ 24 160\\ -17 159\\ 40 158\\ -8 157\\ 13 156\\ -36 155\\ 28 154\\ -4 153\\ -23 152\\ 9 151\\ -29 150\\ 16 149\\ 1 148\\ -19 147\\ 20 146\\ -12 145\\
-37 144\\ 12 143\\ -5 142\\ 29 141\\ -22 140\\ 38 139\\ 3 138\\ -14 137\\ 21 136\\ -31 135\\ 8 134\\ 34 133\\ -26 132\\ -9 131\\ 17 130\\ -40 129\\ 25 128\\ -2 127\\ 31 126\\ -18 125\\ 6 124\\ -34 123\\ 14 122\\ 39 121\\ -11 120\\ 0 119\\ -28 118\\ 23 117\\ -7 116\\ 36 115\\ -20 114\\ 10 113\\ -38 112\\ 27 111\\ -15 110\\ 4 109\\ 33 108\\ -24 107\\ 19 106\\ -3 105\\
-3 104\\ 19 103\\ -24 102\\ 33 101\\ 4 100\\ -15 99\\ 27 98\\ -38 97\\ 10 96\\ -20 95\\ 36 94\\ -7 93\\ 23 92\\ -28 91\\ 0 90\\ -11 89\\ 39 88\\ 14 87\\ -34 86\\ 6 85\\ -18 84\\ 31 83\\ -2 82\\ 25 81\\ -40 80\\ 17 79\\ -9 78\\ -26 77\\ 34 76\\ 8 75\\ -31 74\\ 21 73\\ -14 72\\ 3 71\\ 38 70\\ -22 69\\ 29 68\\ -5 67\\ 12 66\\ -37 65\\
-12 64\\ 20 63\\ -19 62\\ 1 61\\ 16 60\\ -29 59\\ 9 58\\ -23 57\\ -4 56\\ 28 55\\
-24 54\\ 18 52\\ -35 50\\ 11 48\\ -6 46\\ 37 44\\ -21 42\\ 26 40\\ 2 39\\ -10 37\\ 30 35\\ -39 33\\ 15 31\\ -27 30\\ -1 38\\
5 61\\ -29 64\\ 34 67\\ -12 70\\ 18 73\\ -38 76\\ 26 79\\ -4 82\\ 11 85\\ -21 88\\ 38 91\\ -33 94\\ 0 97\\ 15 100\\ -17 103\\ 30 106\\ -8 109\\ 23 112\\ -36 115\\ 9 118\\ -25 121\\ 36 124\\ -1 127\\ 13 130\\ -30 133\\ 20 136\\ -14 139\\ 39 142\\ -23 145\\ 3 148\\ -10 151\\ 28 154\\ -39 157\\ 16 160\\ -6 163\\ 32 166\\ -19 169\\ 7 172\\ -27 175\\ 24 178\\ 5 181\\
-8 56\\ 4 59\\ -16 62\\ 38 66\\ -29 69\\ 14 72\\ -1 75\\ 26 79\\ -38 82\\ 10 85\\ -19 88\\ 29 92\\ 3 95\\ -34 98\\ 35 101\\ -11 105\\ 21 108\\ -25 111\\ -6 114\\ 39 118\\ 16 121\\ -31 124\\ 6 127\\ -14 131\\ 31 134\\ -4 137\\ 24 140\\ -40 144\\ 12 147\\ -22 150\\ 37 153\\ 1 157\\ -27 160\\ 19 163\\ -9 166\\ 33 170\\ 8 173\\ -36 176\\ 27 179\\ -18 183\\
};
% cluster 9
\addplot[jit] table[row sep=\\, x expr=9+(\thisrow{d})/100, y expr=\thisrow{y}/100] {d y\\
29 260\\ -37 250\\ 10 255\\ 37 237\\ 37 231\\ -32 223\\ -27 221\\ -3 217\\
-37 214\\ 12 212\\ -5 210\\ 29 208\\ -22 207\\ 38 205\\ 3 204\\ -14 202\\ 21 201\\ -31 213\\ 8 209\\ 34 203\\ -26 215\\ -9 206\\
-3 199\\ 19 198\\ -24 197\\ 33 196\\ 4 195\\ -15 194\\ 27 193\\ -38 192\\ 10 191\\ -20 190\\ 36 189\\ -7 188\\ 23 187\\ -28 186\\ 0 185\\ -11 184\\ 39 183\\ 14 182\\ -34 181\\ 6 180\\ -18 179\\ 31 178\\ -2 177\\ 25 176\\ -40 175\\ 17 174\\ -9 173\\ -26 172\\ 34 171\\ 8 170\\ -31 169\\ 21 168\\ -14 167\\ 3 166\\ 38 165\\ -22 164\\ 29 163\\ -5 162\\ 12 161\\ -37 160\\
-12 159\\ 20 158\\ -19 157\\ 1 156\\ 16 155\\ -29 154\\ 9 153\\ -23 152\\ -4 151\\ 28 150\\ -36 149\\ 13 148\\ -8 147\\ 40 146\\ -17 145\\ 24 144\\ 5 143\\ -30 142\\ 32 141\\ -13 140\\ -24 139\\ 18 138\\ -35 137\\ 11 136\\ -6 135\\ 37 134\\ -21 133\\ 26 132\\ 2 131\\ -10 130\\ 30 129\\ -39 128\\ 15 127\\ -27 126\\ -1 125\\ 35 124\\ -16 123\\ 7 122\\ -33 121\\ 22 120\\
22 119\\ -33 118\\ 7 117\\ -16 116\\ 35 115\\ -1 114\\ -27 113\\ 15 112\\ -39 111\\ 30 110\\ -10 109\\ 2 108\\ 26 107\\ -21 106\\ 37 105\\
5 102\\ -30 98\\ 32 95\\ -13 91\\ -24 88\\ 18 85\\ -35 81\\ 11 78\\ -6 75\\ 37 72\\
};
% cluster 10
\addplot[jit] table[row sep=\\, x expr=10-(\thisrow{d})/100, y expr=\thisrow{y}/100] {d y\\
26 248\\ -13 246\\ 12 231\\ -2 230\\ 30 222\\ -25 225\\
22 219\\ -33 216\\ 7 213\\ -16 210\\ 35 207\\ -1 204\\ -27 201\\ 15 198\\ -39 195\\ 30 192\\
-37 189\\ 12 188\\ -5 187\\ 29 186\\ -22 185\\ 38 184\\ 3 183\\ -14 182\\ 21 181\\ -31 180\\ 8 179\\ 34 178\\ -26 177\\ -9 176\\ 17 175\\ -40 174\\ 25 173\\ -2 172\\ 31 171\\ -18 170\\ 6 169\\ -34 168\\ 14 167\\ 39 166\\ -11 165\\ 0 164\\ -28 163\\ 23 162\\ -7 161\\ 36 160\\ -20 159\\ 10 158\\ -38 157\\ 27 156\\ -15 155\\ 4 154\\ 33 153\\ -24 152\\ 19 151\\ -3 150\\
22 149\\ -33 148\\ 7 147\\ -16 146\\ 35 145\\ -1 144\\ -27 143\\ 15 142\\ -39 141\\ 30 140\\ -10 139\\ 2 138\\ 26 137\\ -21 136\\ 37 135\\ -6 134\\ 11 133\\ -35 132\\ 18 131\\ -24 130\\ -13 129\\ 32 128\\ -30 127\\ 5 126\\ 24 125\\ -17 124\\ 40 123\\ -8 122\\ 13 121\\ -36 120\\ 28 119\\ -4 118\\ -23 117\\ 9 116\\ -29 115\\ 16 114\\ 1 113\\ -19 112\\ 20 111\\ -12 110\\
-3 109\\ 19 108\\ -24 107\\ 33 106\\ 4 105\\
-15 104\\ 27 101\\ -38 98\\ 10 96\\ -20 93\\ 36 90\\ -7 87\\ 23 84\\ -28 81\\ 0 78\\ -11 75\\ 39 72\\ 14 69\\ -34 66\\ 6 63\\ -18 60\\ 31 57\\ -2 54\\ 25 51\\ -39 50\\
};
% cluster 11
\addplot[jit] table[row sep=\\, x expr=11+(\thisrow{d})/100, y expr=\thisrow{y}/100] {d y\\
-30 247\\ -38 235\\ -15 223\\ 17 223\\ -28 221\\ 10 240\\
-37 218\\ 12 216\\ -5 213\\ 29 211\\ -22 208\\ 38 206\\ 3 204\\ -14 201\\ 21 199\\ -31 196\\ 8 194\\ 34 192\\ -26 189\\ -9 187\\ 17 184\\ -40 182\\ 25 180\\ -2 177\\ 31 175\\ -18 172\\ 6 170\\ -34 168\\ 14 165\\ 39 163\\ -11 160\\ 0 158\\ -28 156\\ 23 153\\ -7 151\\ 36 148\\ -20 146\\ 10 144\\ -38 141\\ 27 139\\ -15 136\\ 4 134\\ 33 132\\ -24 129\\ 19 127\\ -3 124\\
22 122\\ -33 120\\ 7 117\\ -16 115\\ 35 112\\ -1 110\\ -27 108\\ 15 105\\ -39 103\\ 30 100\\
12 61\\ 38 85\\ -36 76\\ -34 72\\ 22 95\\ -16 90\\ 7 82\\ -27 98\\
};
% cluster 12
\addplot[jit] table[row sep=\\, x expr=12+(\thisrow{d})/100, y expr=\thisrow{y}/100] {d y\\
-39 261\\ 30 253\\ -21 220\\ 11 228\\ 11 219\\ 37 204\\ 30 199\\ 35 193\\ -21 189\\ -25 167\\ 30 150\\ -39 130\\ -29 123\\ 12 133\\ 25 106\\ -29 100\\ -18 91\\ -29 88\\ 33 68\\
};
\end{axis}
\pgfresetboundingbox
\path (-93.5pt,-55pt) rectangle (415pt,558pt);
\end{tikzpicture}
\end{document}
